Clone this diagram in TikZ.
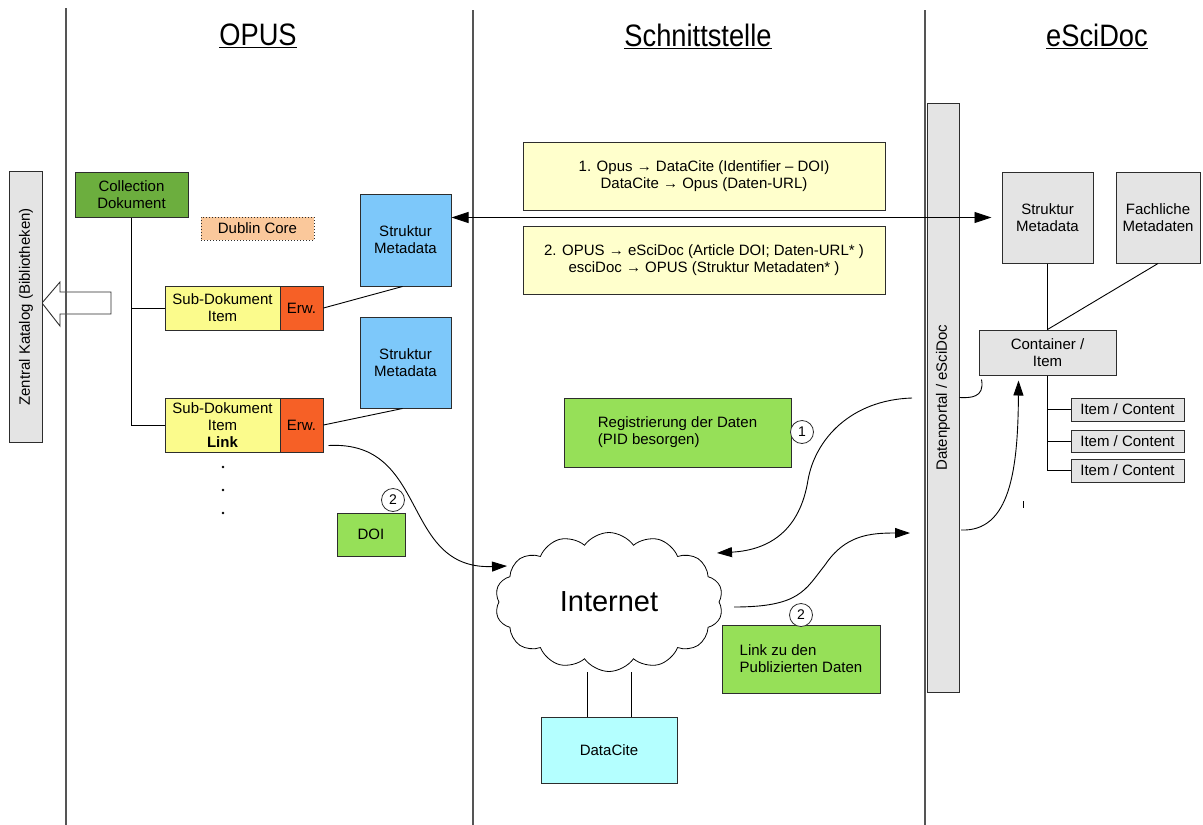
\documentclass[tikz,border=0pt]{standalone}
\usepackage{fontspec}
\setmainfont{Liberation Sans}
\usetikzlibrary{shapes.symbols,arrows.meta,calc}
\definecolor{cgreen}{RGB}{108,174,62}
\definecolor{lgreen}{RGB}{150,224,88}
\definecolor{syellow}{RGB}{251,251,140}
\definecolor{erwc}{RGB}{246,96,38}
\definecolor{sblue}{RGB}{125,200,250}
\definecolor{pyellow}{RGB}{255,255,204}
\definecolor{lgray}{RGB}{228,228,228}
\definecolor{dcyan}{RGB}{180,255,255}
\definecolor{peach}{RGB}{250,200,155}
\definecolor{colgray}{RGB}{85,85,85}
\definecolor{bord}{RGB}{45,45,45}
\newcommand\lblfont{\fontsize{15}{17}\selectfont}
\newcommand\hdrfont{\fontsize{31}{34}\selectfont}
\newcommand\numfont{\fontsize{14}{14}\selectfont}
\newcommand\inetfont{\fontsize{29}{32}\selectfont}
\begin{document}
\begin{tikzpicture}[x=1pt,y=-1pt,
  box/.style={draw=bord, line width=1pt, inner sep=1pt, align=center, font=\lblfont},
  conn/.style={draw=black, line width=0.9pt},
  arr/.style={conn, -{Triangle[length=15pt,width=10pt]}},
  darr/.style={conn, {Triangle[length=17pt,width=11pt]}-{Triangle[length=17pt,width=11pt]}},
  hdr/.style={font=\hdrfont, xscale=0.88, inner sep=0},
  colline/.style={draw=colgray, line width=1.3pt},
  num/.style={circle, draw=bord, fill=white, line width=0.8pt, minimum size=23pt, inner sep=0, font=\numfont}]
\fill[white] (0,0) rectangle (1203,825);
\useasboundingbox (0,0) rectangle (1203,825);

% hollow arrow towards the catalogue
\draw[line width=0.9pt, draw=bord] (42,303) -- (60,282) -- (60,292) -- (111,292) -- (111,314) -- (60,314) -- (60,326) -- cycle;

% column lines
\coordinate (l1t) at (66,8);   \coordinate (l1b) at (66,825);
\coordinate (l2t) at (473,10); \coordinate (l2b) at (473,825);
\coordinate (l3t) at (925,10); \coordinate (l3b) at (925,825);
\draw[colline] (l1t) -- (l1b);
\draw[colline] (l2t) -- (l2b);
\draw[colline] (l3t) -- (l3b);

% headers
\node[hdr] (hopus) at (258,36) {\underline{OPUS}};
\node[hdr] (hschn) at (698,36) {\underline{Schnittstelle}};
\node[hdr] (hesci) at (1097,36) {\underline{eSciDoc}};

% left: catalogue bar
\node[box, fill=lgray, minimum width=33pt, minimum height=271pt] (zk) at (26,307) {};
\node[rotate=90, font=\lblfont] (zkt) at (zk.center) {Zentral Katalog (Bibliotheken)};

% OPUS column
\node[box, fill=cgreen, minimum width=113pt, minimum height=45pt] (coll) at (131.5,194.5) {Collection\\Dokument};
\node[box, fill=peach, dotted, minimum width=113pt, minimum height=23pt] (dcore) at (257.5,228.5) {Dublin Core};
\node[box, fill=syellow, minimum width=115pt, minimum height=44pt] (sd1) at (222.5,308) {Sub-Dokument\\Item};
\node[box, fill=erwc, minimum width=43pt, minimum height=44pt] (erw1) at (301.5,308) {Erw.};
\node[box, fill=syellow, minimum width=115pt, minimum height=54pt] (sd2) at (222.5,425) {Sub-Dokument\\Item\\\textbf{Link}};
\node[box, fill=erwc, minimum width=43pt, minimum height=54pt] (erw2) at (301.5,425) {Erw.};
\node[box, fill=sblue, minimum width=91pt, minimum height=92pt] (smA) at (405.5,240) {Struktur\\Metadata};
\node[box, fill=sblue, minimum width=91pt, minimum height=91pt] (smB) at (405.5,362.5) {Struktur\\Metadata};
\node[box, fill=lgreen, minimum width=68pt, minimum height=43pt] (doi) at (371,534.5) {DOI};
\node[num] (c2a) at (393,500) {2};

\draw[conn] (coll.south) |- (sd2.west);
\draw[conn] (coll.south |- sd1.west) -- (sd1.west);
\draw[conn] (erw1.east) -- ([xshift=-3pt]smA.south);
\draw[conn] (erw2.east) -- ([xshift=-3pt]smB.south);
\fill (223,467) circle (1.3pt);
\fill (223,490) circle (1.3pt);
\fill (223,513) circle (1.3pt);

% middle column
\node[box, fill=pyellow, minimum width=362pt, minimum height=68pt] (y1) at (704,176) {1. Opus → DataCite (Identifier – DOI)\\DataCite → Opus (Daten-URL)};
\node[box, fill=pyellow, minimum width=362pt, minimum height=68pt] (y2) at (704,260) {2. OPUS → eSciDoc (Article DOI; Daten-URL* )\\esciDoc → OPUS (Struktur Metadaten* )};
\node[box, fill=lgreen, align=left, minimum width=227pt, minimum height=69pt] (reg) at (677.5,432.5) {Registrierung der Daten\\(PID besorgen)};
\node[num] (c1) at (802,432) {1};
\node[cloud, draw=black, line width=0.8pt, fill=white, cloud puffs=14, cloud puff arc=110, cloud ignores aspect, minimum width=228pt, minimum height=139pt, font=\inetfont] (inet) at (609,602) {Internet};
\node[box, fill=dcyan, minimum width=136pt, minimum height=66pt] (dc) at (609,750) {DataCite};
\node[box, fill=lgreen, align=left, minimum width=158pt, minimum height=68pt] (lnk) at (801,659) {Link zu den\\Publizierten Daten};
\node[num] (c2b) at (801,615) {2};
\draw[conn] ([xshift=-22pt]dc.north) -- ([xshift=-22pt]dc.north |- inet.south);
\draw[conn] ([xshift=22pt]dc.north) -- ([xshift=22pt]dc.north |- inet.south);

% eSciDoc column
\node[box, fill=lgray, minimum width=32pt, minimum height=589pt] (dp) at (943,397.5) {};
\node[rotate=90, font=\lblfont] (dpt) at (dp.center) {Datenportal / eSciDoc};
\node[box, fill=lgray, minimum width=91pt, minimum height=91pt] (esm) at (1047.5,217.5) {Struktur\\Metadata};
\node[box, fill=lgray, minimum width=84pt, minimum height=91pt] (fach) at (1158,217.5) {Fachliche\\Metadaten};
\node[box, fill=lgray, minimum width=137pt, minimum height=45pt] (cont) at (1047.5,352.5) {Container /\\Item};
\node[box, fill=lgray, inner sep=0pt, minimum width=113pt, minimum height=23pt] (it1) at (1127.5,409.5) {Item / Content};
\node[box, fill=lgray, inner sep=0pt, minimum width=113pt, minimum height=22pt] (it2) at (1127.5,441) {Item / Content};
\node[box, fill=lgray, inner sep=0pt, minimum width=113pt, minimum height=23pt] (it3) at (1127.5,470.5) {Item / Content};
\draw[conn] (esm.south) -- (cont.north);
\draw[conn] (fach.south) -- (cont.north);
\draw[conn] (cont.south) |- (it3.west);
\draw[conn] (cont.south |- it1.west) -- (it1.west);
\draw[conn] (cont.south |- it2.west) -- (it2.west);

% double arrow between the Struktur Metadata boxes
\draw[darr] (smA.east |- esm.west) -- ([xshift=-10pt]esm.west);

% curved connectors
\coordinate (p1) at ($(erw2.south east)+(5,-7)$);
\coordinate (t1) at (507,566);
\draw[arr] (p1) .. controls (430,440) and (400,570) .. (t1);

\coordinate (s2) at (912,398);
\coordinate (m2) at (808,480);
\coordinate (t2) at (717,553);
\draw[arr] (s2) .. controls (850,400) and (815,440) .. (m2) .. controls (800,530) and (770,550) .. (t2);

\coordinate (s3) at (734,607);
\coordinate (m3) at (825,565);
\coordinate (t3) at (910,533);
\draw[arr] (s3) .. controls (800,607) and (805,590) .. (m3) .. controls (845,535) and (870,533) .. (t3);

\coordinate (s4) at (961,530);
\coordinate (t4) at ($(cont.south)+(-29,5)$);
\draw[arr] (s4) .. controls (1010,532) and (1018,470) .. (t4);

\coordinate (s5) at ($(cont.south west)+(3,4)$);
\draw[conn] (s5) .. controls (985,398) and (970,398) .. (dp.east);

\draw[conn] (1023,501) -- (1023,508);
\end{tikzpicture}
\end{document}
